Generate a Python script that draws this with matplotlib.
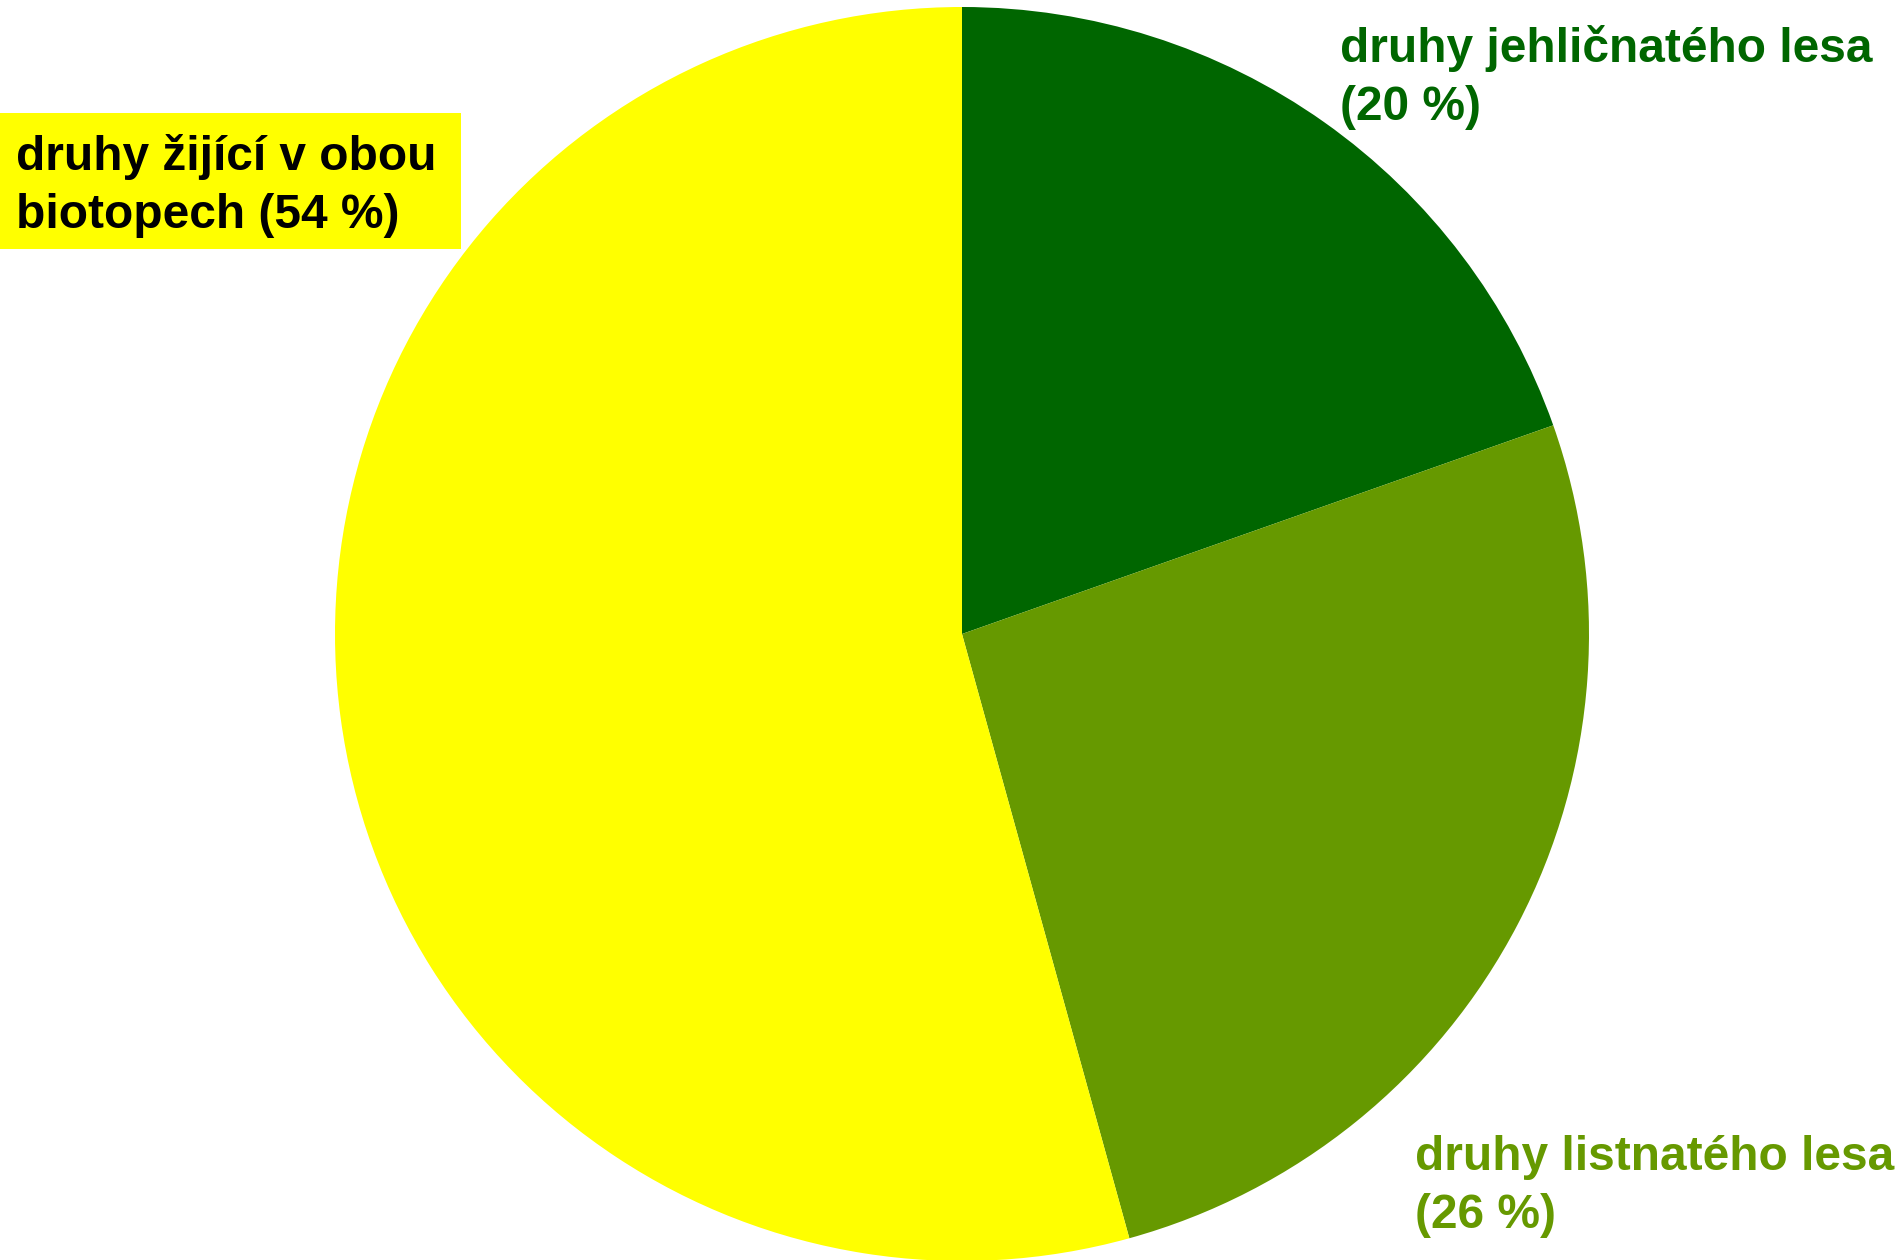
import matplotlib
matplotlib.use("Agg")
import matplotlib.pyplot as plt
from matplotlib.patches import Rectangle

# Data
categories = ["druhy jehličnatého lesa", "druhy listnatého lesa", "druhy žijící v obou\nbiotopech"]
shares = [19.6, 26.1, 54.3]          # slice sizes
label_pct = [20, 26, 54]             # percentages printed in the labels
colors = ["#006600", "#669900", "#FFFF00"]
text_colors = ["#006600", "#669900", "#000000"]

W, H = 1901, 1260
fig = plt.figure(figsize=(W / 100, H / 100), dpi=100)
ax = fig.add_axes([0, 0, 1, 1])

ax.pie(shares, colors=colors, startangle=90, counterclock=False,
       center=(962, H - 634), radius=627, frame=True,
       wedgeprops=dict(linewidth=0, edgecolor="none"))
ax.set_xlim(0, W)
ax.set_ylim(0, H)
ax.set_aspect("equal")
ax.axis("off")

font = dict(family=["Liberation Sans", "DejaVu Sans"], fontweight="bold", fontsize=34.5)

labels = [f"{categories[0]}\n({label_pct[0]} %)",
          f"{categories[1]}\n({label_pct[1]} %)",
          f"{categories[2]} ({label_pct[2]} %)"]

# yellow label box
fig.patches.append(Rectangle((0, 1 - 249 / H), 461 / W, 136 / H, transform=fig.transFigure,
                             facecolor="#FFFF00", edgecolor="none", zorder=1))

fig.text(1340 / W, 1 - 25 / H, labels[0], color=text_colors[0], ha="left", va="top",
         linespacing=1.36, zorder=3, **font)
fig.text(1415 / W, 1 - 1135 / H, labels[1], color=text_colors[1], ha="left", va="top",
         linespacing=1.36, zorder=3, **font)
fig.text(16 / W, 1 - 134 / H, labels[2], color=text_colors[2], ha="left", va="top",
         linespacing=1.36, zorder=3, **font)

fig.savefig("out.png", dpi=100, facecolor="white")
